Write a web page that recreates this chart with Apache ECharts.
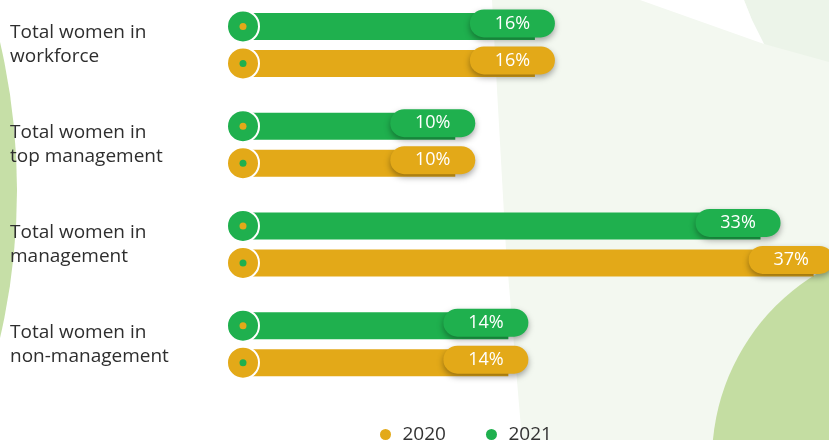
<!DOCTYPE html>
<html>
<head>
<meta charset="utf-8">
<script src="https://cdn.jsdelivr.net/npm/echarts@6/dist/echarts.min.js"></script>
<style>
  html, body { margin: 0; padding: 0; background: #fff; }
  #main { width: 829px; height: 440px; }
</style>
</head>
<body>
<div id="main"></div>
<script>
var categories = ['Total women in\nworkforce', 'Total women in\ntop management', 'Total women in\nmanagement', 'Total women in\nnon-management'];
var values2020 = [16, 10, 37, 14];
var values2021 = [16, 10, 33, 14];

var GREEN = '#1fb04e';
var ORANGE = '#e3a918';
var ORIGIN = -7.5; // where the round marker sits

var chart = echarts.init(document.getElementById('main'));

function makeRender(color, dotColor, offset) {
  return function (params, api) {
    var cat = api.value(1);
    var end = api.coord([api.value(0), cat]);
    var start = api.coord([ORIGIN, cat]);
    var yc = start[1] + offset;
    var pw = 85, ph = 28;
    return {
      type: 'group',
      children: [{
        type: 'rect',
        shape: { x: start[0], y: yc - 13.5, width: end[0] - start[0] - 20, height: 27 },
        style: { fill: color }
      }, {
        type: 'rect',
        shape: { x: end[0] - pw, y: yc - 3 - ph / 2, width: pw, height: ph, r: 14 },
        style: {
          fill: color,
          shadowColor: 'rgba(0,0,0,0.35)',
          shadowBlur: 6,
          shadowOffsetY: 3
        }
      }, {
        type: 'text',
        style: {
          text: api.value(0) + '%',
          x: end[0] - pw / 2,
          y: yc - 3,
          align: 'center',
          verticalAlign: 'middle',
          fill: '#fff',
          font: '18px "Open Sans"'
        }
      }, {
        type: 'circle',
        shape: { cx: start[0], cy: yc, r: 16 },
        style: { fill: color, stroke: '#fff', lineWidth: 2 }
      }, {
        type: 'circle',
        shape: { cx: start[0], cy: yc, r: 3.5 },
        style: { fill: dotColor }
      }]
    };
  };
}

var option = {
  animation: false,
  graphic: {
    elements: [{
      type: 'polygon', z: -10, silent: true,
      shape: { points: [[492, 0], [506, 250], [522, 440], [829, 440], [829, 0]] },
      style: { fill: '#f3f8f0' }
    }, {
      type: 'polygon', z: -9, silent: true,
      shape: { points: [[744, 0], [829, 0], [829, 62], [764, 44], [752, 20]] },
      style: { fill: '#ecf4e9' }
    }, {
      type: 'polygon', z: -9, silent: true,
      shape: { points: [[640, 0], [744, 0], [752, 20], [764, 44]] },
      style: { fill: '#ffffff' }
    }, {
      type: 'circle', z: -9, silent: true,
      shape: { cx: 930, cy: 460, r: 218 },
      style: { fill: '#c4dda2' }
    }, {
      type: 'circle', z: -9, silent: true,
      shape: { cx: -636, cy: 190, r: 653 },
      style: { fill: '#c6dfa7' }
    }]
  },
  legend: {
    data: [{ name: '2020', icon: 'circle' }, { name: '2021', icon: 'circle' }],
    left: 375,
    top: 420,
    itemWidth: 24,
    itemHeight: 11,
    itemGap: 40,
    textStyle: { fontFamily: 'Open Sans', fontSize: 19, color: '#333' }
  },
  grid: { left: 243, right: 2, top: -5, height: 399, outerBoundsMode: 'none' },
  xAxis: {
    type: 'value',
    min: ORIGIN,
    max: 36.5,
    show: false
  },
  yAxis: {
    type: 'category',
    data: categories,
    inverse: true,
    axisLine: { show: false },
    axisTick: { show: false },
    splitLine: { show: false },
    axisLabel: {
      align: 'left',
      margin: 233,
      fontFamily: 'Open Sans',
      fontSize: 19,
      lineHeight: 24,
      color: '#2e2e2e'
    }
  },
  series: [{
    name: '2020',
    type: 'custom',
    itemStyle: { color: ORANGE },
    renderItem: makeRender(ORANGE, GREEN, 18.5),
    encode: { x: 0, y: 1 },
    data: values2020.map(function (v, i) { return [v, i]; })
  }, {
    name: '2021',
    type: 'custom',
    itemStyle: { color: GREEN },
    renderItem: makeRender(GREEN, ORANGE, -18.5),
    encode: { x: 0, y: 1 },
    data: values2021.map(function (v, i) { return [v, i]; })
  }]
};

chart.setOption(option);
</script>
</body>
</html>
